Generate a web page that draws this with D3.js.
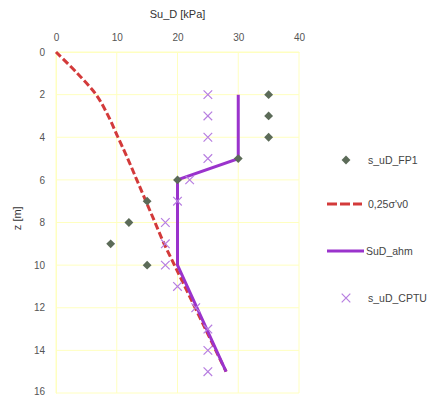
<!DOCTYPE html>
<html>
<head>
<meta charset="utf-8">
<script src="https://cdn.jsdelivr.net/npm/d3@7"></script>
<style>
  html, body { margin: 0; padding: 0; background: #fff; }
  svg { display: block; font-family: "Liberation Sans", Arial, sans-serif; }
</style>
</head>
<body>
<svg id="chart" width="433" height="397"></svg>
<script>
// Undrained shear strength profile vs depth
const xTicks = [0, 10, 20, 30, 40];
const zTicks = [0, 2, 4, 6, 8, 10, 12, 14, 16];

// s_uD from FP1 tests
const fp1Su = [35, 35, 35, 30, 20, 15, 12, 9, 15];
const fp1Z  = [2, 3, 4, 5, 6, 7, 8, 9, 10];

// 0,25 sigma'v0 profile
const sigSu = [0, 3.5, 6.6, 8.6, 10.2, 11.8, 13.3, 14.8, 16.3, 17.8, 19.5, 21.2, 22.9, 24.6, 26.3, 28];
const sigZ  = [0, 1, 2, 3, 4, 5, 6, 7, 8, 9, 10, 11, 12, 13, 14, 15];

// Adopted design profile
const ahmSu = [30, 30, 20, 20, 28];
const ahmZ  = [2, 5, 6, 10, 15];

// s_uD from CPTU
const cptSu = [25, 25, 25, 25, 22, 20, 18, 18, 18, 20, 23, 25, 25, 25];
const cptZ  = [2, 3, 4, 5, 6, 7, 8, 9, 10, 11, 12, 13, 14, 15];

const legendLabels = ["s_uD_FP1", "0,25σ'v0", "SuD_ahm", "s_uD_CPTU"];

const svg = d3.select("#chart");
const plotLeft = 56, plotRight = 299, plotTop = 52, plotBottom = 393;

const x = d3.scaleLinear().domain([0, 40]).range([plotLeft, plotRight]);
const y = d3.scaleLinear().domain([0, 16]).range([plotTop, plotBottom]);

const gridColor = "#ffffc0";
const textColor = "#555";

// grid
svg.append("g").selectAll("line").data(xTicks).join("line")
  .attr("x1", d => x(d)).attr("x2", d => x(d))
  .attr("y1", plotTop).attr("y2", plotBottom)
  .attr("stroke", gridColor).attr("stroke-width", 1);
svg.append("g").selectAll("line").data(zTicks).join("line")
  .attr("x1", plotLeft).attr("x2", plotRight)
  .attr("y1", d => y(d)).attr("y2", d => y(d))
  .attr("stroke", gridColor).attr("stroke-width", 1);

// axes
const xAxis = svg.append("g").attr("transform", `translate(0,${plotTop})`)
  .call(d3.axisTop(x).tickValues(xTicks).tickSize(0).tickPadding(11));
const yAxis = svg.append("g").attr("transform", `translate(${plotLeft},0)`)
  .call(d3.axisLeft(y).tickValues(zTicks).tickSize(0).tickPadding(11));
[xAxis, yAxis].forEach(g => {
  g.select(".domain").attr("stroke", gridColor);
  g.selectAll("text").attr("fill", textColor).attr("font-size", 10);
});
// keep the lowest depth label inside the frame
yAxis.selectAll(".tick text").filter(d => d === 16).attr("dy", "0.1em");

// axis titles
svg.append("text").attr("x", x(20)).attr("y", 18)
  .attr("text-anchor", "middle").attr("font-size", 11).attr("fill", "#333")
  .text("Su_D [kPa]");
svg.append("text").attr("transform", `translate(21,${y(7.8)}) rotate(-90)`)
  .attr("text-anchor", "middle").attr("font-size", 11).attr("fill", "#333")
  .text("z [m]");

// 0,25 sigma'v0 dashed curve
svg.append("path").datum(d3.zip(sigSu, sigZ))
  .attr("d", d3.line().x(d => x(d[0])).y(d => y(d[1])).curve(d3.curveCatmullRom))
  .attr("fill", "none").attr("stroke", "#d33a3a")
  .attr("stroke-width", 3).attr("stroke-dasharray", "7,3");

// adopted profile
svg.append("path").datum(d3.zip(ahmSu, ahmZ))
  .attr("d", d3.line().x(d => x(d[0])).y(d => y(d[1])))
  .attr("fill", "none").attr("stroke", "#9a33cc").attr("stroke-width", 3);

// FP1 diamonds
const diamond = d3.symbol().type(d3.symbolDiamond2).size(50);
svg.append("g").selectAll("path").data(d3.zip(fp1Su, fp1Z)).join("path")
  .attr("d", diamond)
  .attr("transform", d => `translate(${x(d[0])},${y(d[1])})`)
  .attr("fill", "#5c6b58");

// CPTU crosses
const cross = d3.symbol().type(d3.symbolX).size(50);
svg.append("g").selectAll("path").data(d3.zip(cptSu, cptZ)).join("path")
  .attr("d", cross)
  .attr("transform", d => `translate(${x(d[0])},${y(d[1])})`)
  .attr("fill", "none").attr("stroke", "#b77ee0").attr("stroke-width", 1.2);

// legend
const lg = svg.append("g").attr("font-size", 10.5).attr("fill", "#444");
const ly = [160, 204, 251, 298];
lg.append("path").attr("d", diamond).attr("transform", `translate(346,${ly[0]})`).attr("fill", "#5c6b58");
lg.append("line").attr("x1", 327).attr("x2", 362).attr("y1", ly[1]).attr("y2", ly[1])
  .attr("stroke", "#d33a3a").attr("stroke-width", 3).attr("stroke-dasharray", "10,3");
lg.append("line").attr("x1", 327).attr("x2", 364).attr("y1", ly[2]).attr("y2", ly[2])
  .attr("stroke", "#9a33cc").attr("stroke-width", 3);
lg.append("path").attr("d", cross).attr("transform", `translate(346,${ly[3]})`)
  .attr("fill", "none").attr("stroke", "#b77ee0").attr("stroke-width", 1.2);
lg.selectAll("text").data(legendLabels).join("text")
  .attr("x", (d, i) => i === 2 ? 366 : 368)
  .attr("y", (d, i) => ly[i] + 4)
  .text(d => d);
</script>
</body>
</html>
